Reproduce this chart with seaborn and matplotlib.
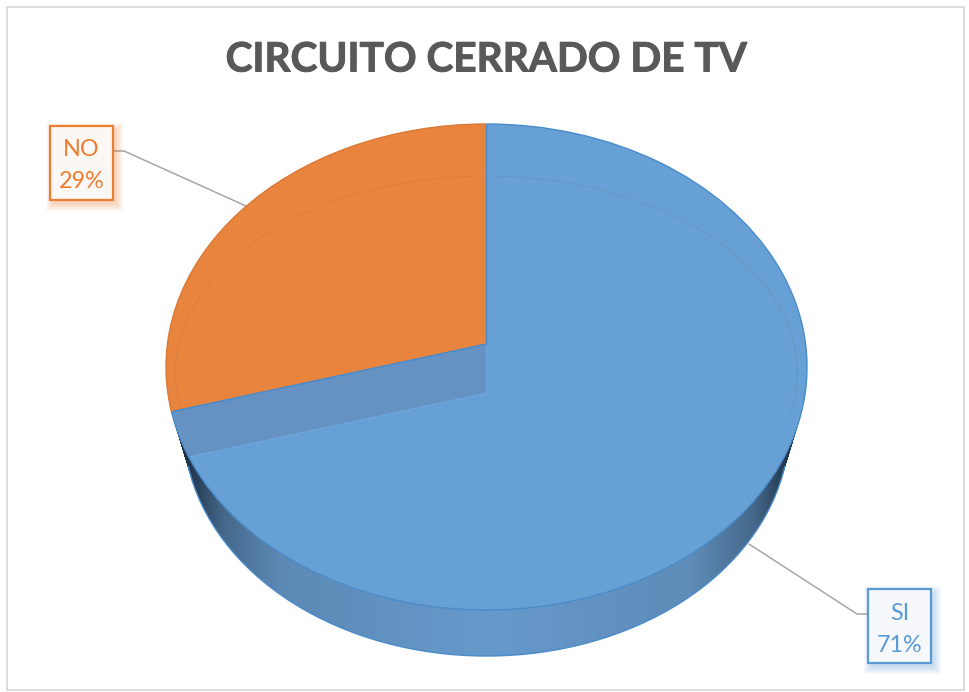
import numpy as np
import matplotlib
matplotlib.use("Agg")
import matplotlib.pyplot as plt
import matplotlib.patheffects as pe
from matplotlib.colors import LinearSegmentedColormap
from matplotlib.patches import Arc, Rectangle
from matplotlib.path import Path
from matplotlib.transforms import Affine2D
import seaborn as sns

title = "CIRCUITO CERRADO DE TV"
categories = ["SI", "NO"]
values = [70.6, 29.4]

sns.set_theme(style="white")
plt.rcParams["font.family"] = ["Lato", "DejaVu Sans"]

W, H = 969, 692
CX, CY, RX, RY = 486.5, 367.0, 320.5, 243.0
APEX = (367.0 - 344.0) / RY
SHIFT = 49.0 / RY
BLUE, ORANGE, SHADE = sns.color_palette(["#67A0D5", "#E9843F", "#6592C2"])
EDGE_B, EDGE_O = "#4A8CCB", "#D97A35"
TXT_B, TXT_O = "#5B9BD5", "#ED7D31"

fig = plt.figure(figsize=(W / 100, H / 100), dpi=100, facecolor="white")
ax = fig.add_axes([0, 0, 1, 1])

def px(x, y):
    return (x - CX) / RX, (CY - y) / RY

top_path = Path.unit_circle()

# --- extruded side wall: loft between the top rim and a smaller bottom rim
loft = []
for t in np.linspace(0, 1, 40):
    r = 1 - t * (1 - 303.0 / RX)
    ry = 1 - t * (1 - 230.0 / RY)
    dy = t * (426.0 - CY) / RY
    loft.append(Affine2D().scale(r, ry).translate(0, -dy).transform_path(top_path))
wall_path = Path.make_compound_path(*loft)
shade_stops = [(0.0, "#0d1620"), (0.03, "#1f3347"), (0.09, "#46698c"), (0.18, "#5d8ab5"),
               (0.5, "#6699CC"), (0.82, "#5f8cb8"), (0.92, "#45688a"), (0.97, "#22384d"), (1.0, "#0d1620")]
cmap = LinearSegmentedColormap.from_list("wall", shade_stops)

def slices(center, colors, z, edge="none", lw=0):
    wedges, _ = ax.pie(values, startangle=90, counterclock=False, colors=colors, radius=1.4, center=center,
                       wedgeprops=dict(edgecolor=edge, linewidth=lw))
    for w in wedges:
        w.set_zorder(z)
    return wedges

# --- top face
groups = [
    slices((0, APEX), [BLUE, "none"], 2),
    slices((0, APEX - SHIFT), ["none", SHADE], 2.2, edge="#6CA6DC", lw=0.9),
    slices((0, APEX), ["none", ORANGE], 2.4),
    slices((0, APEX), ["none", "none"], 2.6, edge=EDGE_B, lw=0.9),
]

ax.set_aspect("auto")
ax.set_xlim(px(0, 0)[0], px(W, 0)[0])
ax.set_ylim(px(0, H)[1], px(0, 0)[1])
ax.set_axis_off()

for g in groups:
    for w in g:
        w.set_clip_on(True)
        w.set_clip_path(top_path, ax.transData)

im = ax.imshow(np.linspace(0, 1, 512)[None, :], cmap=cmap, aspect="auto", zorder=1,
               extent=(-1.0, 1.0, -1.3, 0.3))
im.set_clip_path(wall_path, ax.transData)
ax.set_xlim(px(0, 0)[0], px(W, 0)[0])
ax.set_ylim(px(0, H)[1], px(0, 0)[1])
ax.add_patch(Arc((0, -(426.0 - CY) / RY), 2 * 303.0 / RX, 2 * 230.0 / RY, theta1=190, theta2=350,
                 color=EDGE_B, lw=1.0, zorder=1.5))

# rim, split where the slice boundary meets it
ang = np.deg2rad(90 + 360 * values[1] / sum(values))
b = APEX * np.sin(ang)
s = -b + np.sqrt(b * b + 1 - APEX * APEX)
th = np.degrees(np.arctan2(APEX + s * np.sin(ang), s * np.cos(ang))) % 360
ax.add_patch(Arc((0, 0), 2, 2, theta1=90, theta2=th, color=EDGE_O, lw=1.0, zorder=3))
ax.add_patch(Arc((0, 0), 2, 2, theta1=th, theta2=90, color=EDGE_B, lw=1.0, zorder=3))

# bevel line
ax.add_patch(Arc(px(486.5, 373), 2 * 311 / RX, 2 * 197 / RY, theta1=-10, theta2=190,
                 color="#7a5a3a", lw=0.8, alpha=0.13, zorder=3))

# --- chart frame
ax.add_patch(Rectangle(px(7, 690), 957 / RX, 683 / RY, fc="none", ec="#D9D9D9", lw=1.3, zorder=0.5))

# --- title
x_t, y_t = px(486, 60)
ax.text(x_t, y_t, title, ha="center", va="center", fontsize=29.2, fontweight="bold", color="#595959", zorder=6,
        path_effects=[pe.withStroke(linewidth=0.7, foreground="#595959")])

# --- data labels
def label(name, val, box, color, leader, ys):
    x0, y0, x1, y1 = box
    lx, ly = zip(*[px(*p) for p in leader])
    ax.plot(lx, ly, color="#A6A6A6", lw=1.1, zorder=0.8, solid_joinstyle="miter")
    for grow in np.linspace(7, 0, 8):
        a = px(x0 + 3 - grow, y1 + 4 + grow)
        ax.add_patch(Rectangle(a, (x1 - x0 + 2 * grow) / RX, (y1 - y0 + 2 * grow) / RY,
                               fc=color, ec="none", alpha=0.045, zorder=4))
    a = px(x0, y1)
    fill = "#FBF7F4" if name == "NO" else "#F6F8FC"
    ax.add_patch(Rectangle(a, (x1 - x0) / RX, (y1 - y0) / RY, fc=fill, ec=color, lw=1.6, zorder=5))
    cx = (x0 + x1) / 2
    for text, yy in zip([name, f"{round(val)}%"], ys):
        tx, ty = px(cx, yy)
        ax.text(tx, ty, text, color=color, fontsize=16.8, ha="center", va="center", zorder=6)

label(categories[1], values[1], (50, 126, 113, 200), TXT_O, [(113, 151), (124, 151), (246, 206)], (150, 182))
label(categories[0], values[0], (868, 589, 931, 663), TXT_B, [(868, 614), (857, 614), (749, 544)], (614, 645))

fig.savefig("out.png", dpi=100, facecolor="white")
